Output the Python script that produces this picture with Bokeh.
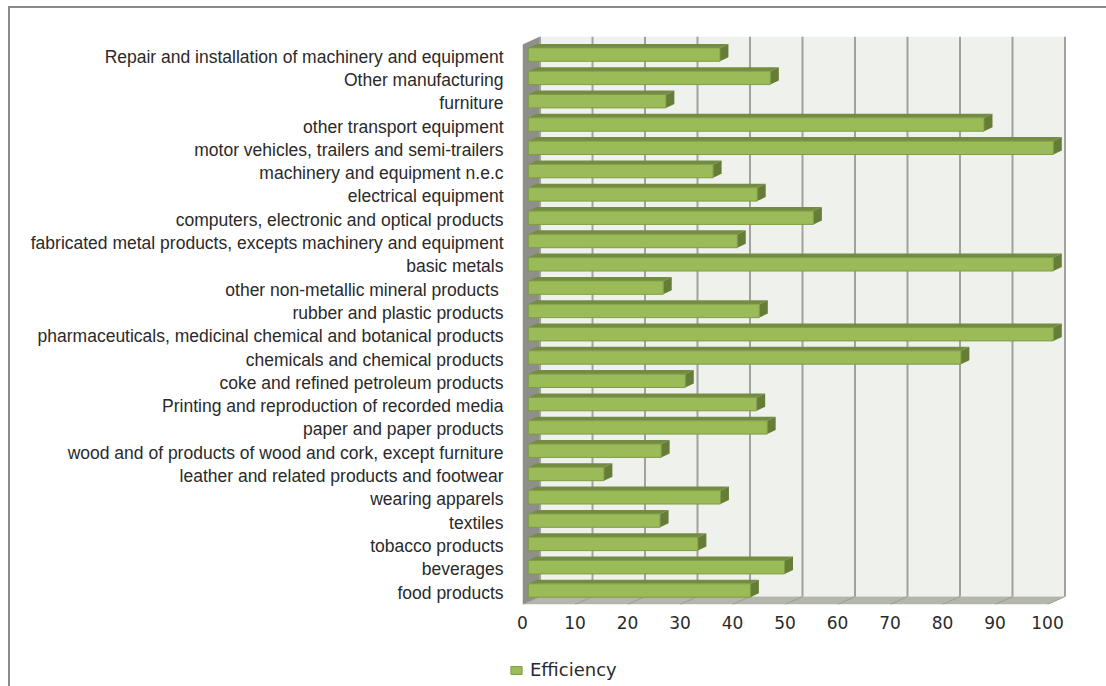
from bokeh.embed import file_html
from bokeh.layouts import column
from bokeh.models import FixedTicker, Legend, LegendItem, LinearAxis, Range1d
from bokeh.plotting import figure
from bokeh.resources import INLINE

# Sectors, listed from the bottom of the chart to the top
categories = [
    "food products",
    "beverages",
    "tobacco products",
    "textiles",
    "wearing apparels",
    "leather and related products and footwear",
    "wood and of products of wood and cork, except furniture",
    "paper and paper products",
    "Printing and reproduction of recorded media",
    "coke and refined petroleum products",
    "chemicals and chemical products",
    "pharmaceuticals, medicinal chemical and botanical products",
    "rubber and plastic products",
    "other non-metallic mineral products ",
    "basic metals",
    "fabricated metal products, excepts machinery and equipment",
    "computers, electronic and optical products",
    "electrical equipment",
    "machinery and equipment n.e.c",
    "motor vehicles, trailers and semi-trailers",
    "other transport equipment",
    "furniture",
    "Other manufacturing",
    "Repair and installation of machinery and equipment",
]
efficiency = [42.3, 48.8, 32.3, 25.1, 36.6, 14.4, 25.3, 45.5, 43.5, 29.9, 82.4, 100,
              44.0, 25.7, 100, 39.8, 54.3, 43.6, 35.2, 100, 86.8, 26.2, 46.1, 36.5]
x_ticks = [0, 10, 20, 30, 40, 50, 60, 70, 80, 90, 100]

# Page geometry of the pseudo-3D box
ORIGIN_X, ORIGIN_Y = 10, 8   # canvas corner, just inside the ruled page frame
PX_X = 5.25                  # pixels per percentage point
PX_Y = 23.3                  # pixels per category
LEFT, RIGHT, TOP, BOTTOM = 522, 1070, 36, 604
FIRST_LABEL_Y = 592
SPLIT_Y = 640                # chart above this line, legend strip below it

x_end = (RIGHT - LEFT) / PX_X
y_start = (FIRST_LABEL_Y - BOTTOM) / PX_Y
y_end = (FIRST_LABEL_Y - TOP) / PX_Y

p = figure(width=1106 - ORIGIN_X, height=SPLIT_Y - ORIGIN_Y,
           output_backend="svg", toolbar_location=None,
           x_range=Range1d(0, x_end), y_range=Range1d(y_start, y_end),
           x_axis_location=None, y_axis_location=None,
           min_border_left=LEFT - ORIGIN_X, min_border_right=1106 - RIGHT,
           min_border_top=TOP - ORIGIN_Y, min_border_bottom=SPLIT_Y - BOTTOM,
           background_fill_color="white", border_fill_color="white",
           outline_line_color=None, frame_align=False)
p.grid.visible = False

# Depth of the box and of the bars, in data units
box_dx, box_dy = 17.5 / PX_X, 8 / PX_Y
bar_x0 = 5.8 / PX_X
bar_dx, bar_dy = 8.5 / PX_X, 4 / PX_Y
bar_h = 13.4 / PX_Y
bar_shift = 2 / PX_Y

# Back wall, side wall and floor
top_y = y_end
wall_top = top_y - box_dy
p.patch([box_dx, x_ticks[-1] + box_dx, x_ticks[-1] + box_dx, box_dx],
        [y_start + box_dy, y_start + box_dy, top_y, top_y],
        fill_color="#EFF2EC", line_color=None)
p.patch([0, box_dx, box_dx, 0],
        [y_start, y_start + box_dy, top_y, wall_top],
        fill_color="#8E8F8B", line_color=None)
p.patch([0, x_ticks[-1], x_ticks[-1] + box_dx, box_dx],
        [y_start, y_start, y_start + box_dy, y_start + box_dy],
        fill_color="#B4B6AE", line_color=None)

# Gridlines up the back wall and across the floor
for t in x_ticks:
    p.line([t + box_dx, t + box_dx], [y_start + box_dy, top_y],
           line_color="#A1A29E", line_width=2)
    p.line([t, t + box_dx], [y_start, y_start + box_dy],
           line_color="#999B94", line_width=1)

# Each bar: top face, end face, then front face
for i, v in enumerate(efficiency):
    y0 = i + bar_shift - bar_h / 2
    y1 = i + bar_shift + bar_h / 2
    x0 = bar_x0
    x1 = bar_x0 + v
    p.patch([x0, x1, x1 + bar_dx, x0 + bar_dx],
            [y1, y1, y1 + bar_dy, y1 + bar_dy],
            fill_color="#738C42", line_color=None)
    p.patch([x1, x1 + bar_dx, x1 + bar_dx, x1],
            [y0, y0 + bar_dy, y1 + bar_dy, y1],
            fill_color="#667D38", line_color=None)
    p.quad(left=x0, right=x1, bottom=y0, top=y1,
           fill_color="#9BBB59", line_color="#7F9C47", line_width=1)

# Value axis under the floor
x_axis = LinearAxis(ticker=FixedTicker(ticks=x_ticks),
                    axis_line_color=None, major_tick_line_color=None,
                    minor_tick_line_color=None, major_label_standoff=5,
                    major_label_text_font="DejaVu Sans",
                    major_label_text_font_size="17px",
                    major_label_text_color="#2A2A2A")
p.add_layout(x_axis, "below")

# Category axis, labels right-aligned short of the side wall
y_axis = LinearAxis(ticker=FixedTicker(ticks=list(range(len(categories)))),
                    major_label_overrides={i: c for i, c in enumerate(categories)},
                    axis_line_color=None, major_tick_line_color=None,
                    minor_tick_line_color=None, major_label_standoff=13,
                    major_label_text_font="Liberation Sans",
                    major_label_text_font_size="17.5px",
                    major_label_text_color="#2A2A2A")
p.add_layout(y_axis, "left")

# Legend strip under the chart; its renderer only supplies the swatch style
strip = figure(width=1106 - ORIGIN_X, height=686 - SPLIT_Y,
               output_backend="svg", toolbar_location=None,
               x_range=Range1d(0, 1), y_range=Range1d(0, 1),
               x_axis_location=None, y_axis_location=None,
               min_border=0, outline_line_color=None, frame_align=False,
               background_fill_color="white", border_fill_color="white")
strip.grid.visible = False
nan = float("nan")
swatch = strip.quad(left=[nan], right=[nan], bottom=[nan], top=[nan],
                    fill_color="#9BBB59", line_color="#7F9C47", line_width=1)
strip.add_layout(Legend(items=[LegendItem(label="Efficiency", renderers=[swatch])],
                        location=(499, 6), orientation="horizontal",
                        background_fill_alpha=0, border_line_color=None,
                        glyph_width=14, glyph_height=10, label_standoff=7, padding=2,
                        margin=0, label_text_font="DejaVu Sans",
                        label_text_font_size="18px", label_text_color="#2A2A2A"))

# The page frame is ruled along the top and left of the whole layout
page = column(p, strip, spacing=0, margin=(ORIGIN_Y - 2, 0, 0, ORIGIN_X - 2),
              styles={"border-left": "2px solid #8A8A8A",
                      "border-top": "2px solid #8A8A8A",
                      "box-sizing": "content-box"})

open("out.html", "w").write(file_html(page, INLINE))
